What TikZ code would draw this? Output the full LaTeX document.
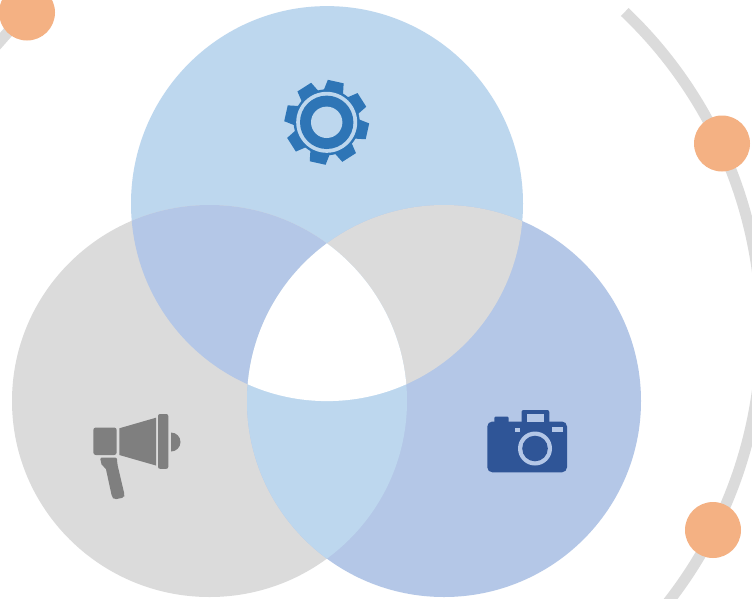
\documentclass[tikz,border=0pt]{standalone}
\definecolor{cblue}{HTML}{BDD7EE}
\definecolor{cgray}{HTML}{DBDBDB}
\definecolor{cindigo}{HTML}{B4C7E7}
\definecolor{corange}{HTML}{F4B183}
\definecolor{gearblue}{HTML}{2E75B6}
\definecolor{camblue}{HTML}{2F5597}
\definecolor{megagray}{HTML}{7F7F7F}
\definecolor{arcgray}{HTML}{DBDBDB}
\tikzset{x=1pt,y=-1pt,
  dotstyle/.style={fill=corange},
  ringstyle/.style={draw=arcgray,line width=11pt,line cap=butt}}
\def\topc{(327,203.6) ellipse [x radius=196,y radius=197.5]}
\def\leftc{(209.5,401) ellipse [x radius=197.5,y radius=196]}
\def\rightc{(444,401) ellipse [x radius=197,y radius=196]}
\begin{document}
\begin{tikzpicture}
\useasboundingbox (0,0) rectangle (752,598);
\clip (0,0) rectangle (752,598);
\fill[white] (0,0) rectangle (752,598);
% outer ring
\coordinate (ringc) at (321,331);
\draw[ringstyle] (ringc) ++(-46.4:440.5) arc [start angle=-46.4,end angle=45,radius=440.5];
\draw[ringstyle] (-6,48) -- (9,31);
% circles
\fill[cblue] \topc;
\fill[cgray] \leftc;
\fill[cindigo] \rightc;
\begin{scope}\clip \topc; \fill[cindigo] \leftc; \fill[cgray] \rightc; \end{scope}
\begin{scope}\clip \leftc; \fill[cblue] \rightc; \end{scope}
\begin{scope}\clip \topc; \clip \leftc; \fill[white] \rightc; \end{scope}
% orange dots
\fill[dotstyle] (27,12.5) circle [radius=28];
\fill[dotstyle] (722,143.5) circle [radius=28];
\fill[dotstyle] (713,530) circle [radius=28];
% gear
\begin{scope}[shift={(326.7,122.3)}]
  \fill[gearblue] (0,0) circle [radius=33];
  \foreach \a in {-77.5,-32.5,12.5,57.5,102.5,147.5,192.5,237.5}
    \fill[gearblue] (\a-19:31) -- (\a-11:42.5) -- (\a+11:42.5) -- (\a+19:31) -- cycle;
  \fill[cblue] (0,0) circle [radius=30.5];
  \fill[gearblue] (0,0) circle [radius=26.7];
  \fill[cblue] (0,0) circle [radius=15.7];
\end{scope}
% megaphone
\fill[megagray,rounded corners=2.5pt] (93.3,427.5) rectangle (116.7,455);
\fill[megagray] (119.3,428.3) -- (156,417.7) -- (156,465.5) -- (119.3,455) -- cycle;
\fill[megagray,rounded corners=2pt] (158,414) rectangle (168.3,468.8);
\fill[megagray] (171,432.5) arc [start angle=-90,end angle=90,radius=9.5] -- cycle;
\fill[megagray,rounded corners=2pt] (100,457.5) -- (117,457.5) -- (117.3,464) -- (124.6,495) -- (124.2,497.5) -- (114,499.5) -- (112,497) -- (105.5,467) -- (102,466.5) -- cycle;
% camera
\fill[camblue,rounded corners=5pt] (487.3,421.5) rectangle (567,472.3);
\fill[camblue,rounded corners=1pt] (494.3,416.7) rectangle (508.7,425);
\fill[camblue,rounded corners=2pt] (521.5,410) rectangle (549.3,425);
\fill[cindigo] (527.3,413.5) rectangle (543.5,421.7);
\fill[cindigo] (515,427.7) rectangle (520.3,431.7);
\fill[cindigo] (552.3,426.7) rectangle (562.7,431.7);
\fill[cindigo] (535,448.5) circle [radius=17];
\fill[camblue] (535,448.5) circle [radius=12.8];
\end{tikzpicture}
\end{document}
